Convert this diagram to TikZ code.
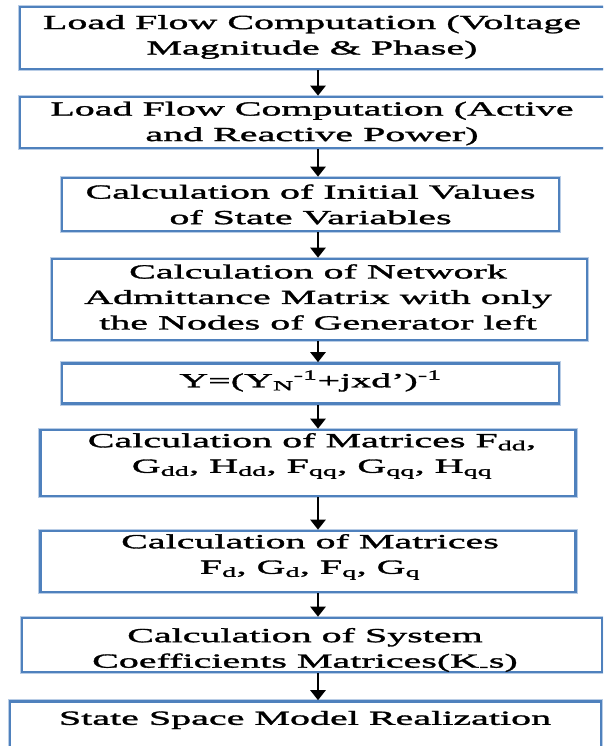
\documentclass[tikz,border=0pt]{standalone}
\usepackage{fontspec}
\setmainfont{Liberation Serif}[FakeStretch=2.0, FakeBold=1.6]
\usetikzlibrary{arrows.meta}
\definecolor{boxblue}{RGB}{79,129,189}
\definecolor{boxglow}{RGB}{185,205,230}
\tikzset{
  stepbox/.style={draw=boxblue, line width=2.6pt, inner sep=0pt, fill=white,
    preaction={draw=boxglow, line width=4.8pt}},
  txt/.style={align=center, inner sep=0pt, font=\fontsize{20}{25.5}\selectfont},
  arr/.style={line width=2.4pt, -{Triangle[width=15pt,length=10pt]}},
}
\begin{document}
\begin{tikzpicture}[x=1pt,y=-1pt]
\useasboundingbox (0,0) rectangle (603,746);
\clip (0,0) rectangle (603,746);
\fill[white] (0,0) rectangle (603,746);
\coordinate (ax) at (318,0);
% boxes
\node[stepbox, minimum width=586pt, minimum height=62pt] (b1) at (313,38) {};
\node[stepbox, minimum width=586pt, minimum height=51pt] (b2) at (313,122.5) {};
\node[stepbox, minimum width=497pt, minimum height=53pt] (b3) at (310.5,204.5) {};
\node[stepbox, minimum width=535pt, minimum height=81pt] (b4) at (319.5,299.5) {};
\node[stepbox, minimum width=497pt, minimum height=40pt] (b5) at (310.5,383.5) {};
\node[stepbox, minimum width=535pt, minimum height=66pt] (b6) at (308,463) {};
\node[stepbox, minimum width=535pt, minimum height=61pt] (b7) at (308,561.5) {};
\node[stepbox, minimum width=580pt, minimum height=54pt] (b8) at (312,645) {};
\node[stepbox, minimum width=591pt, minimum height=59pt] (b9) at (305.5,731) {};
% texts
\node[txt] (t1) at (312,37) {Load Flow Computation (Voltage\\Magnitude \& Phase)};
\node[txt] (t2) at (312,123.5) {Load Flow Computation (Active\\and Reactive Power)};
\node[txt] (t3) at (310.5,204.5) {Calculation of Initial Values\\of State Variables};
\node[txt] (t4) at (318,297) {Calculation of Network\\Admittance Matrix with only\\the Nodes of Generator left};
\node[txt] (t5) at (310.5,381) {Y=(Y\textsubscript{N}\textsuperscript{-1}+jxd')\textsuperscript{-1}};
\node[txt] (t6) at (312,456) {Calculation of Matrices F\textsubscript{dd},\\G\textsubscript{dd}, H\textsubscript{dd}, F\textsubscript{qq}, G\textsubscript{qq}, H\textsubscript{qq}};
\node[txt] (t7) at (310,557) {Calculation of Matrices\\F\textsubscript{d}, G\textsubscript{d}, F\textsubscript{q}, G\textsubscript{q}};
\node[txt] (t8) at (305,650) {Calculation of System\\Coefficients Matrices(K\textsubscript{-}s)};
\node[txt] (t9) at (305,720) {State Space Model Realization};
% arrows
\draw[arr] (b1.south -| ax) -- (b2.north -| ax);
\draw[arr] (b2.south -| ax) -- (b3.north -| ax);
\draw[arr] (b3.south -| ax) -- (b4.north -| ax);
\draw[arr] (b4.south -| ax) -- (b5.north -| ax);
\draw[arr] (b5.south -| ax) -- (b6.north -| ax);
\draw[arr] (b6.south -| ax) -- (b7.north -| ax);
\draw[arr] (b7.south -| ax) -- (b8.north -| ax);
\draw[arr] (b8.south -| ax) -- (b9.north -| ax);
\end{tikzpicture}
\end{document}
